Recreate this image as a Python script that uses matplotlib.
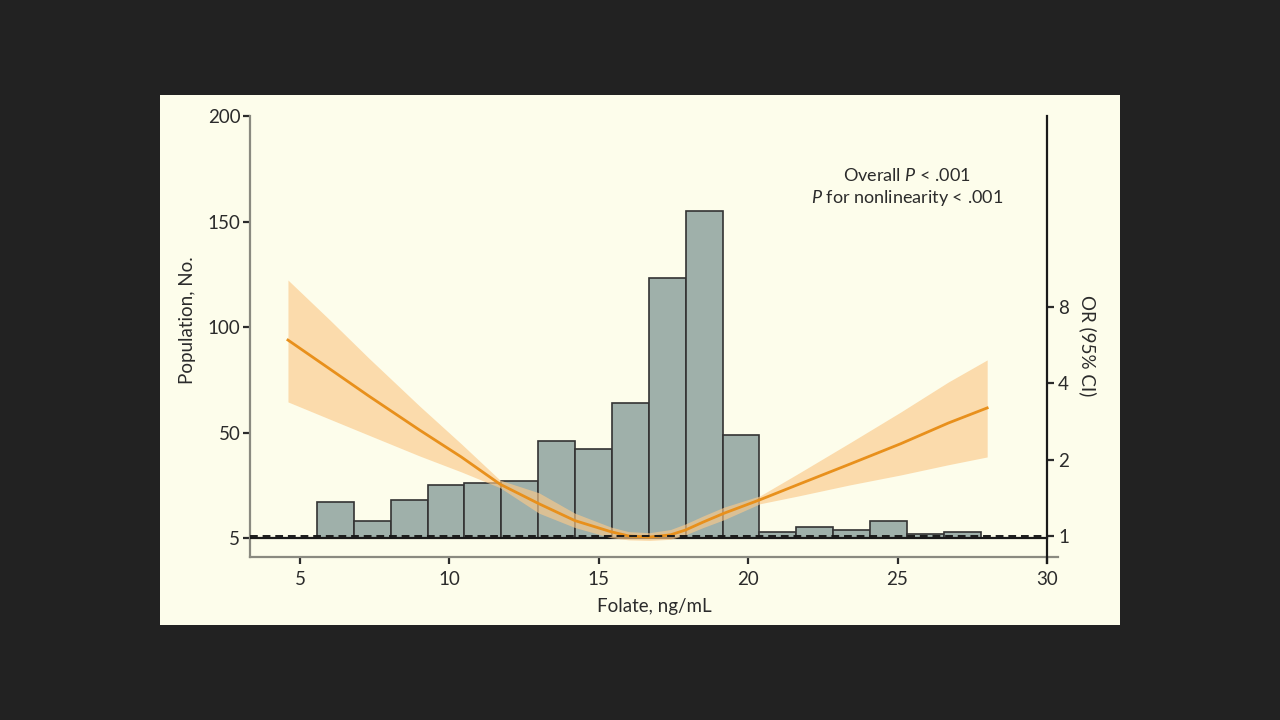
import numpy as np
import matplotlib
matplotlib.use("Agg")
import matplotlib.pyplot as plt
from matplotlib.patches import Rectangle

plt.rcParams["font.family"] = ["Lato", "DejaVu Sans"]
plt.rcParams["mathtext.fontset"] = "custom"
plt.rcParams["mathtext.rm"] = "Lato"
plt.rcParams["mathtext.it"] = "Lato:italic"

# histogram of folate (ng/mL)
bin_start = 5.57
bin_width = 1.234
counts = [17, 8, 18, 25, 26, 27, 46, 42, 64, 123, 155, 49, 3, 5, 4, 8, 2, 3]

# restricted cubic spline OR with 95% CI
spline_x = [4.6, 6.0, 7.3, 9.0, 10.4, 11.7, 13.0, 14.2, 15.4, 16.0, 16.7, 17.4,
            17.9, 18.5, 19.2, 20.4, 21.7, 23.4, 25.1, 26.7, 28.0]
spline_or = [5.93, 4.56, 3.57, 2.62, 2.05, 1.60, 1.34, 1.15, 1.04, 1.00, 0.99, 1.01,
             1.055, 1.135, 1.23, 1.39, 1.60, 1.92, 2.31, 2.79, 3.20]
spline_hi = [10.23, 7.12, 5.04, 3.26, 2.31, 1.66, 1.48, 1.23, 1.085, 1.04, 1.03, 1.06,
             1.115, 1.20, 1.30, 1.44, 1.77, 2.33, 3.08, 4.05, 4.95]
spline_lo = [3.38, 2.89, 2.50, 2.07, 1.79, 1.55, 1.23, 1.08, 0.985, 0.965, 0.96, 0.97,
             1.01, 1.08, 1.16, 1.34, 1.44, 1.59, 1.74, 1.91, 2.05]

x_ticks = [5, 10, 15, 20, 25, 30]
pop_ticks = [0, 50, 100, 150, 200]
pop_labels = ["5", "50", "100", "150", "200"]
or_ticks = [1, 2, 4, 8]

dark = "#2b2b2b"
fig = plt.figure(figsize=(12.8, 7.2), dpi=100)
fig.patch.set_facecolor("#222222")
fig.add_artist(Rectangle((160 / 1280, 95 / 720), 960 / 1280, 530 / 720,
                         transform=fig.transFigure, facecolor="#fdfdeb",
                         edgecolor="none", zorder=-10))

ax = fig.add_axes([250 / 1280, 163 / 720, 808 / 1280, 441 / 720])
ax.set_facecolor("none")
edges = bin_start + bin_width * np.arange(len(counts))
ax.bar(edges, counts, width=bin_width, align="edge", color="#9fb0aa",
       edgecolor="#333333", linewidth=1.2, zorder=2)
ax.set_xlim(3.33, 30.37)
ax.set_ylim(-9, 200)
ax.set_xticks(x_ticks)
ax.set_yticks(pop_ticks)
ax.set_yticklabels(pop_labels)
for s in ["top", "right"]:
    ax.spines[s].set_visible(False)
for s in ["left", "bottom"]:
    ax.spines[s].set_color("#8a8a80")
    ax.spines[s].set_linewidth(1.6)
ax.tick_params(axis="both", colors=dark, labelsize=13.5, length=5, width=1.6)
ax.tick_params(axis="x", pad=5)
ax.tick_params(axis="y", pad=2)
ax.set_xlabel("Folate, ng/mL", fontsize=13.5, color=dark, labelpad=7)
ax.set_ylabel("Population, No.", fontsize=13.5, color=dark, labelpad=8)
ax.yaxis.label.set_y(0.537)

ax2 = ax.twinx()
ax2.set_yscale("log")
ax2.set_ylim(0.826, 45.4)
ax2.fill_between(spline_x, spline_lo, spline_hi, color="#fbc98a", alpha=0.65,
                 linewidth=0, zorder=3)
ax2.plot(spline_x, spline_or, color="#e8901c", linewidth=2, zorder=4)
ax2.plot([3.33, 30], [1, 1], color="#1a1a1a", linestyle=(0, (4, 2.5)),
         linewidth=1.4, zorder=5)
ax.plot([3.33, 30], [0, 0], color="#1a1a1a", linewidth=1.6, zorder=5)
ax2.set_yticks(or_ticks)
ax2.set_yticklabels([str(t) for t in or_ticks])
ax2.yaxis.set_minor_locator(matplotlib.ticker.NullLocator())
for s in ["top", "left", "bottom"]:
    ax2.spines[s].set_visible(False)
ax2.spines["right"].set_position(("data", 30))
ax2.spines["right"].set_color("#1a1a1a")
ax2.spines["right"].set_linewidth(1.6)
ax2.spines["right"].set_bounds(0.78, 45.4)
ax2.tick_params(axis="y", colors=dark, labelsize=13.5, length=5, width=1.6, pad=3)
ax2.set_ylabel("OR (95% CI)", fontsize=13.5, color=dark, rotation=-90, labelpad=20)
ax2.yaxis.label.set_y(0.48)

ax.text(0.813, 0.838, "Overall $P$ < .001\n$P$ for nonlinearity < .001",
        transform=ax.transAxes, ha="center", va="center", fontsize=13,
        color=dark, linespacing=1.3)

fig.savefig("out.png", dpi=100, facecolor=fig.get_facecolor())
plt.close(fig)
